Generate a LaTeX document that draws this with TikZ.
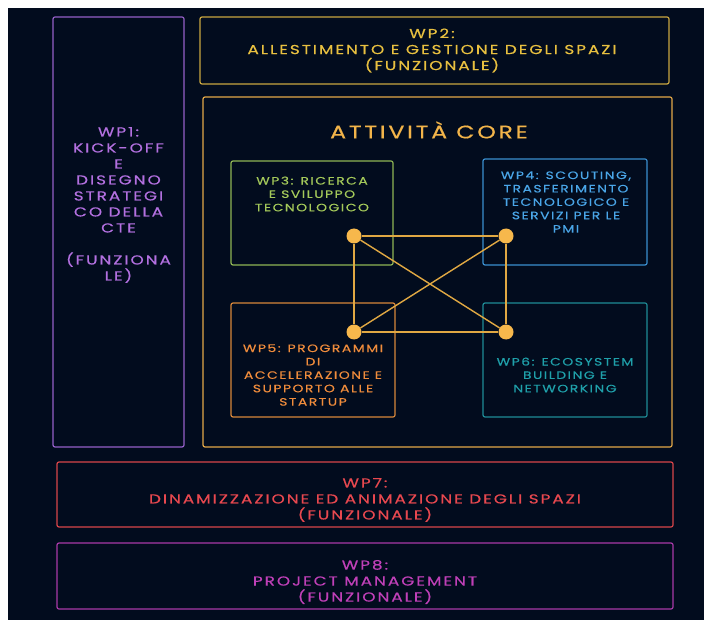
\documentclass[tikz,border=0pt]{standalone}
\usepackage{fontspec}
\newfontfamily\wpfont[FakeStretch=1.3,LetterSpace=15,FakeBold=0.4]{Poppins}
\newfontfamily\wpsmall[FakeStretch=1.3,LetterSpace=14,FakeBold=0.4]{Poppins}
\definecolor{bg}{HTML}{020C1E}
\definecolor{cA}{HTML}{9560C8}\definecolor{tA}{HTML}{B370E0}
\definecolor{cB}{HTML}{C9A640}\definecolor{tB}{HTML}{E8C040}
\definecolor{cC}{HTML}{E3A848}\definecolor{tC}{HTML}{F2B44A}
\definecolor{cD}{HTML}{8FB554}\definecolor{tD}{HTML}{A4C95A}
\definecolor{cE}{HTML}{3A8FD0}\definecolor{tE}{HTML}{4AA6E8}
\definecolor{cF}{HTML}{D9873A}\definecolor{tF}{HTML}{F08C3C}
\definecolor{cG}{HTML}{1F8C96}\definecolor{tG}{HTML}{1FA0AA}
\definecolor{cH}{HTML}{D9454A}\definecolor{tH}{HTML}{E8484F}
\definecolor{cI}{HTML}{A83AA8}\definecolor{tI}{HTML}{C040B8}
\definecolor{dotc}{HTML}{F7B84C}\definecolor{linkc}{HTML}{E0A843}
\begin{document}
\begin{tikzpicture}[x=1pt,y=-1pt,
  box/.style={draw, rounded corners=2pt, line width=1.2pt, inner sep=0pt},
  bigtxt/.style={align=center, inner sep=0pt, font=\wpfont\fontsize{13}{16}\selectfont},
  smalltxt/.style={align=center, inner sep=0pt, font=\wpsmall\fontsize{10.7}{13.4}\selectfont},
  titletxt/.style={inner sep=0pt, font=\wpfont\fontsize{18.2}{22}\selectfont},
  dot/.style={circle, fill=dotc, inner sep=0pt, minimum size=15pt},
  link/.style={draw=linkc, line width=1.4pt}]
\useasboundingbox (0,0) rectangle (704,620);
\fill[white] (0,0) rectangle (704,620);
\fill[bg] (8,8) rectangle (704,620);
% boxes
\node[box, draw=cA, minimum width=131pt, minimum height=430pt] (wp1) at (118.5,232) {};
\node[box, draw=cB, minimum width=469pt, minimum height=67pt] (wp2) at (434.5,50.5) {};
\node[box, draw=cC, minimum width=469pt, minimum height=350pt] (core) at (437.5,272) {};
\node[box, draw=cD, minimum width=162pt, minimum height=104pt] (wp3) at (312,213) {};
\node[box, draw=cE, minimum width=164pt, minimum height=106pt] (wp4) at (565,212) {};
\node[box, draw=cF, minimum width=164pt, minimum height=114pt] (wp5) at (313,360) {};
\node[box, draw=cG, minimum width=164pt, minimum height=114pt] (wp6) at (565,360) {};
\node[box, draw=cH, minimum width=616pt, minimum height=65pt] (wp7) at (365,494.5) {};
\node[box, draw=cI, minimum width=616pt, minimum height=66pt] (wp8) at (365,576) {};
% texts
\node[bigtxt, text=tA] (t1) at (118.5,205) {WP1:\\KICK-OFF\\E\\DISEGNO\\STRATEGI\\CO DELLA\\CTE\\[16pt](FUNZIONA\\LE)};
\node[bigtxt, text=tB] (t2) at (432,50.5) {WP2:\\ALLESTIMENTO E GESTIONE DEGLI SPAZI\\(FUNZIONALE)};
\node[titletxt, text=tC] (title) at (429,130) {ATTIVITÀ CORE};
\node[smalltxt, text=tD] (t3) at (312,194) {WP3: RICERCA\\E SVILUPPO\\TECNOLOGICO};
\node[smalltxt, text=tE] (t4) at (566,202) {WP4: SCOUTING,\\TRASFERIMENTO\\TECNOLOGICO E\\SERVIZI PER LE\\PMI};
\node[smalltxt, text=tF] (t5) at (313,375) {WP5: PROGRAMMI\\DI\\ACCELERAZIONE E\\SUPPORTO ALLE\\STARTUP};
\node[smalltxt, text=tG] (t6) at (565,375) {WP6: ECOSYSTEM\\BUILDING E\\NETWORKING};
\node[bigtxt, text=tH] (t7) at (365,500) {WP7:\\DINAMIZZAZIONE ED ANIMAZIONE DEGLI SPAZI\\(FUNZIONALE)};
\node[bigtxt, text=tI] (t8) at (365,582) {WP8:\\PROJECT MANAGEMENT\\(FUNZIONALE)};
% network
\node[dot] (d1) at (354,236) {};
\node[dot] (d2) at (506,236) {};
\node[dot] (d3) at (354,332) {};
\node[dot] (d4) at (506,332) {};
\draw[link] (d1) -- (d2);
\draw[link] (d2) -- (d4);
\draw[link] (d4) -- (d3);
\draw[link] (d3) -- (d1);
\draw[link] (d1) -- (d4);
\draw[link] (d2) -- (d3);
\end{tikzpicture}
\end{document}
